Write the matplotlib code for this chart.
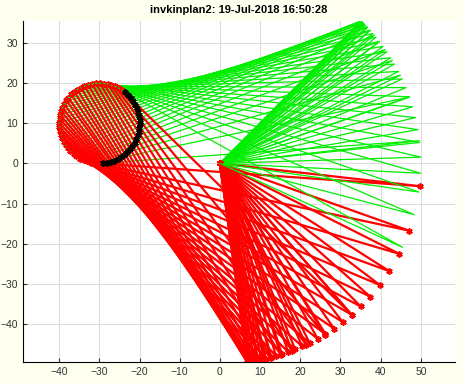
import matplotlib.pyplot as plt
import numpy as np

plt.rcParams['font.family'] = ['Liberation Sans', 'DejaVu Sans']

L1 = 50.0  # length of first link

# end effector points on the circle that the arm can reach
end_x = [-30.1, -31.1, -32.1, -33.0, -33.9, -34.8, -35.7, -36.4, -37.2, -37.8,
         -38.4, -38.9, -39.3, -39.6, -39.8, -40.0, -40.0, -39.9, -39.8, -39.5,
         -39.2, -38.8, -38.2, -37.7, -37.0, -36.2, -35.5, -34.6, -33.7, -32.8,
         -31.8, -30.9, -29.9, -28.9, -27.9, -27.0, -26.1, -25.2, -24.3]
end_y = [0.0, 0.1, 0.2, 0.5, 0.8, 1.2, 1.8, 2.3, 3.0, 3.8,
         4.5, 5.4, 6.3, 7.2, 8.2, 9.1, 10.1, 11.1, 12.1, 13.0,
         13.9, 14.8, 15.7, 16.4, 17.2, 17.8, 18.4, 18.9, 19.3, 19.6,
         19.8, 20.0, 20.0, 19.9, 19.8, 19.5, 19.2, 18.8, 18.2]

# first joint angle (deg) of the two solutions
red_th = [-6.5, -19.6, -26.8, -32.5, -37.3, -41.6, -45.5, -49.0, -52.3, -55.4,
          -58.3, -60.9, -63.5, -65.8, -68.0, -70.1, -72.0, -73.8, -75.4, -76.8,
          -78.1, -79.3, -80.2, -81.0, -81.6, -82.0, -82.2, -82.1, -81.8, -81.2,
          -80.2, -79.0, -77.3, -75.2, -72.4, -69.0, -64.6, -58.6, -49.0]
green_th = [6.5, 19.3, 26.1, 30.9, 34.6, 37.5, 39.8, 41.6, 43.0, 44.0,
            44.7, 45.1, 45.3, 45.2, 44.9, 44.3, 43.6, 42.7, 41.6, 40.4,
            39.0, 37.4, 35.7, 33.8, 31.8, 29.7, 27.3, 24.9, 22.2, 19.4,
            16.4, 13.2, 9.7, 6.0, 1.8, -2.8, -8.2, -14.8, -24.7]

# circle points out of reach
miss_x = [-23.6, -22.8, -22.2, -21.6, -21.1, -20.7, -20.4, -20.2, -20.0, -20.0,
          -20.1, -20.2, -20.5, -20.8, -21.2, -21.8, -22.3, -23.0, -23.8, -24.5,
          -25.4, -26.3, -27.2, -28.2, -29.1]
miss_y = [17.7, 17.0, 16.2, 15.5, 14.6, 13.7, 12.8, 11.8, 10.9, 9.9,
          8.9, 7.9, 7.0, 6.1, 5.2, 4.3, 3.6, 2.8, 2.2, 1.6,
          1.1, 0.7, 0.4, 0.2, 0.0]

fig = plt.figure(figsize=(4.64, 3.84), dpi=100)
fig.patch.set_facecolor('#fffff0')
ax = fig.add_axes([0.0496, 0.0573, 0.931, 0.888])

ast = (6, 2, 0)
for i in range(len(end_x)):
    tr = np.radians(red_th[i])
    tg = np.radians(green_th[i])
    ax.plot([0, L1 * np.cos(tr), end_x[i]], [0, L1 * np.sin(tr), end_y[i]],
            color='r', lw=1.6, marker=ast, ms=4.5, mew=1.2)
    ax.plot([0, L1 * np.cos(tg), end_x[i]], [0, L1 * np.sin(tg), end_y[i]],
            color='#00ee00', lw=0.9)
ax.plot(miss_x, miss_y, ls='none', color='k', marker=ast, ms=4.5, mew=1.2)

ax.set_xlim(-49, 58.5)
ax.set_ylim(-49.5, 35.5)
ax.set_xticks(range(-40, 51, 10))
ax.set_yticks(range(-40, 31, 10))
ax.grid(True, color='#dddddd', lw=0.8)
ax.set_axisbelow(True)
ax.spines['top'].set_visible(False)
ax.spines['right'].set_visible(False)
ax.tick_params(labelsize=7.5, length=3, direction='in', colors='#333333')
ax.set_title('invkinplan2: 19-Jul-2018 16:50:28', fontsize=8, fontweight='bold')
fig.savefig('out.png')
